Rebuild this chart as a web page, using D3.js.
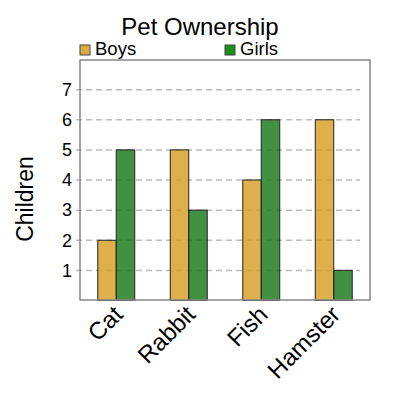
<!DOCTYPE html>
<html>
<head>
<meta charset="utf-8">
<script src="https://cdn.jsdelivr.net/npm/d3@7"></script>
<style>
  body { margin: 0; background: #fff; }
  svg { font-family: "Liberation Sans", Arial, sans-serif; }
</style>
</head>
<body>
<svg id="chart" width="400" height="400"></svg>
<script>
// Pet ownership chart
const pets = ['Cat', 'Rabbit', 'Fish', 'Hamster'];
const groups = ['Boys', 'Girls'];
const boys = [2, 5, 4, 6];
const girls = [5, 3, 6, 1];
const yTicks = [1, 2, 3, 4, 5, 6, 7];
const colors = { Boys: '#d69f24', Girls: '#187818' };
const legendColors = { Boys: '#ddad45', Girls: '#1a8f1a' };

const width = 400, height = 400;
const margin = { top: 60, right: 30, bottom: 100, left: 80 };

const svg = d3.select('#chart');

const rows = pets.map((p, i) => ({ pet: p, Boys: boys[i], Girls: girls[i] }));

const x0 = d3.scaleBand()
  .domain(pets)
  .range([margin.left, width - margin.right])
  .paddingInner(0.49)
  .paddingOuter(0.245);

const x1 = d3.scaleBand()
  .domain(groups)
  .range([0, x0.bandwidth()]);

const y = d3.scaleLinear()
  .domain([0, 8])
  .range([height - margin.bottom + 0.5, margin.top - 0.5]);

// grid lines
svg.append('g')
  .selectAll('line')
  .data(yTicks)
  .join('line')
  .attr('x1', margin.left - 4)
  .attr('x2', width - margin.right - 10)
  .attr('y1', d => y(d))
  .attr('y2', d => y(d))
  .attr('stroke', '#bbb')
  .attr('stroke-width', 1.5)
  .attr('stroke-dasharray', '6,4');

// y tick labels
svg.append('g')
  .selectAll('text')
  .data(yTicks)
  .join('text')
  .attr('x', margin.left - 8)
  .attr('y', d => y(d))
  .attr('dy', '0.35em')
  .attr('text-anchor', 'end')
  .attr('font-size', '18px')
  .text(d => d);

// bars
const bars = svg.append('g')
  .selectAll('g')
  .data(rows)
  .join('g')
  .attr('transform', d => `translate(${x0(d.pet)},0)`);

bars.selectAll('rect')
  .data(d => groups.map(g => ({ key: g, value: d[g] })))
  .join('rect')
  .attr('x', d => x1(d.key))
  .attr('width', x1.bandwidth())
  .attr('y', d => y(d.value))
  .attr('height', d => y(0) - y(d.value))
  .attr('fill', d => colors[d.key])
  .attr('fill-opacity', 0.82)
  .attr('stroke', '#222')
  .attr('stroke-width', 1);

// frame
svg.append('rect')
  .attr('x', margin.left)
  .attr('y', margin.top)
  .attr('width', width - margin.left - margin.right)
  .attr('height', height - margin.top - margin.bottom)
  .attr('fill', 'none')
  .attr('stroke', '#888')
  .attr('stroke-width', 1.5);

// x labels, rotated
svg.append('g')
  .selectAll('text')
  .data(pets)
  .join('text')
  .attr('transform', d => `translate(${x0(d) + x0.bandwidth() / 2 + 8},${height - margin.bottom + 16}) rotate(-45)`)
  .attr('text-anchor', 'end')
  .attr('font-size', '24px')
  .text(d => d);

// y label
svg.append('text')
  .attr('transform', 'translate(33,199) rotate(-90)')
  .attr('text-anchor', 'middle')
  .attr('font-size', '23px')
  .text('Children');

// title
svg.append('text')
  .attr('x', 200)
  .attr('y', 35)
  .attr('text-anchor', 'middle')
  .attr('font-size', '24px')
  .text('Pet Ownership');

// legend
const legend = svg.append('g')
  .selectAll('g')
  .data(groups)
  .join('g')
  .attr('transform', (d, i) => `translate(${80 + i * 145},44)`);

legend.append('rect')
  .attr('width', 10)
  .attr('height', 10)
  .attr('y', 1)
  .attr('fill', d => legendColors[d])
  .attr('stroke', '#444')
  .attr('stroke-width', 1);

legend.append('text')
  .attr('x', 15)
  .attr('y', 11)
  .attr('font-size', '18.5px')
  .text(d => d);
</script>
</body>
</html>
